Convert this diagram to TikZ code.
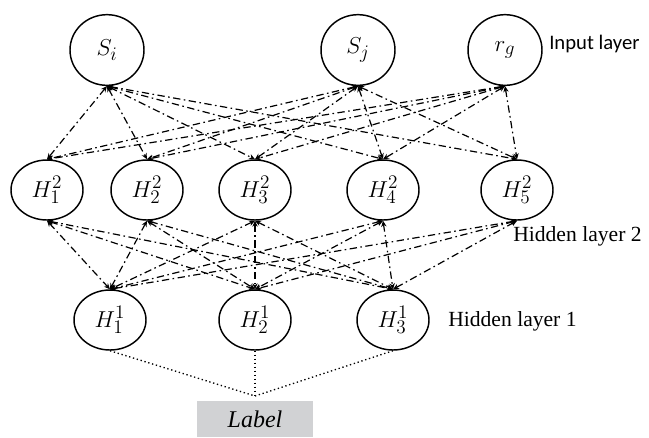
\documentclass[tikz,border=0pt]{standalone}
\usepackage{fontspec}
\setmainfont{Liberation Serif}
\newfontfamily\layerfont{Carlito}
\usetikzlibrary{arrows.meta,shapes.geometric}
\definecolor{labelgray}{HTML}{D1D2D4}
\tikzset{unit/.style={draw,ellipse,line width=1.1pt,inner sep=0pt,minimum width=54pt,
 minimum height=45pt,font=\fontsize{19}{22}\selectfont},
 inunit/.style={unit,minimum width=55.5pt,minimum height=53pt},
 link/.style={{Stealth[length=4.5pt,width=4pt]}-{Stealth[length=4.5pt,width=4pt]},
 line width=0.9pt,dash pattern=on 5.5pt off 2.6pt on 1.2pt off 2.6pt},
 feed/.style={dotted,line width=1pt}}

\begin{document}
\begin{tikzpicture}[x=0.75pt,y=-0.75pt,layer/.style={font=\fontsize{16.2}{19}\selectfont,anchor=west,inner sep=0pt}]
\useasboundingbox (0,0) rectangle (649,437);
\node[inunit] (si) at (107,50) {$S_i$};
\node[inunit] (sj) at (358,50) {$S_j$};
\node[inunit] (rg) at (505,50) {$r_g$};
\node[layer,font=\layerfont\fontsize{15.5}{18}\selectfont] (inlab) at (549,44) {Input layer};
\foreach \x [count=\i] in {47,147,255,383,517}
 \node[unit] (h2\i) at (\x,190) {$H^2_{\i}$};
\node[layer] (h2lab) at (513,236) {Hidden layer 2};
\foreach \x [count=\i] in {110,255,393}
 \node[unit] (h1\i) at (\x,320) {$H^1_{\i}$};
\node[layer] (h1lab) at (448,321) {Hidden layer 1};
\node[fill=labelgray,minimum width=87pt,minimum height=27pt,inner sep=0pt,
 font=\itshape\fontsize{18}{20}\selectfont] (label) at (255,419) {Label};
\coordinate (join) at (255,396);
\foreach \a in {si,sj,rg} \foreach \b in {1,...,5}
 \draw[link] (\a.south) -- (h2\b.north);
\foreach \a in {1,...,5} \foreach \b in {1,2,3}
 \draw[link] (h2\a.south) -- (h1\b.north);
\foreach \n in {h11,h12,h13} \draw[feed] (\n.south) -- (join);
\end{tikzpicture}
\end{document}
